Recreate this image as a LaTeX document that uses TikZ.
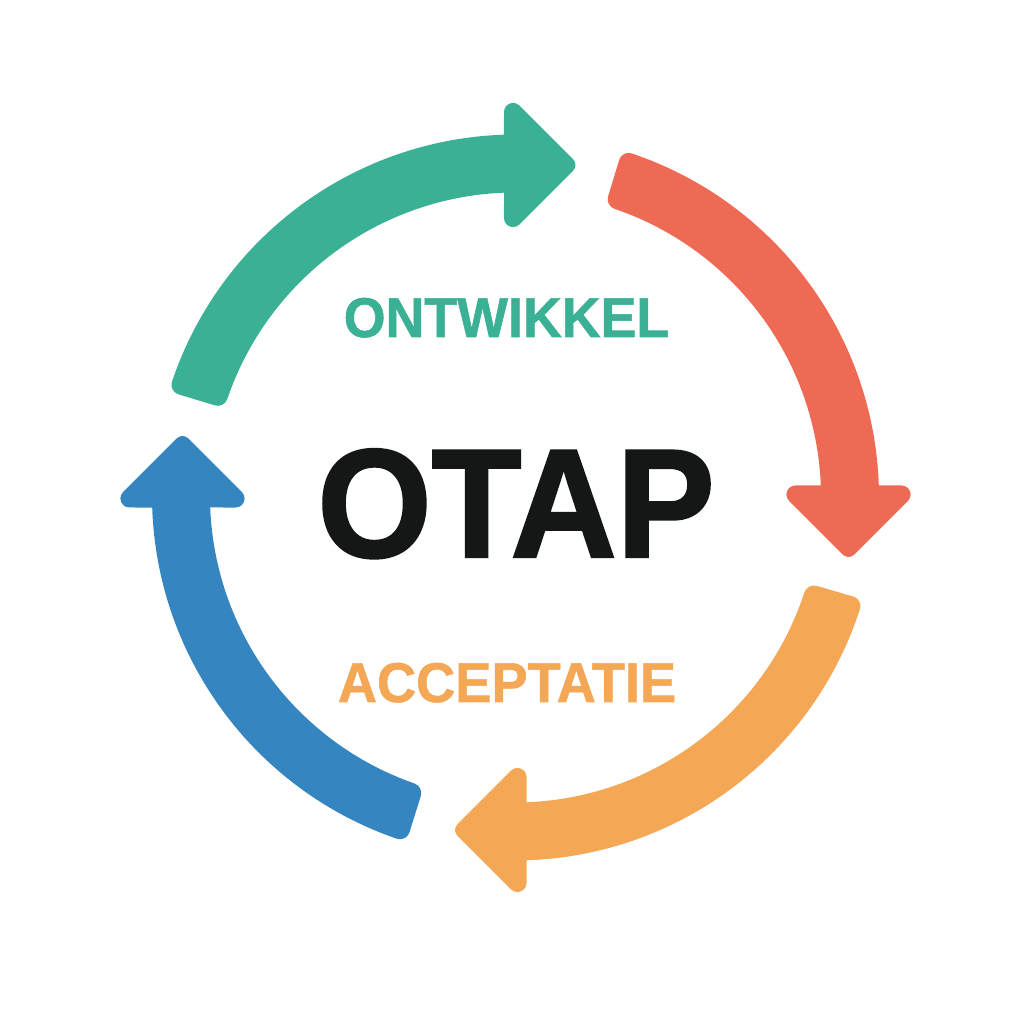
\documentclass[tikz,border=0pt]{standalone}
\usepackage{fontspec}
\newfontfamily\bigfont{Liberation Sans Bold}[FakeBold=1.5,FakeStretch=0.95]
\newfontfamily\smallfontA{Liberation Sans Bold}[FakeBold=1,FakeStretch=0.96]
\newfontfamily\smallfontB{Liberation Sans Bold}[FakeBold=1,FakeStretch=0.968]
\definecolor{cgreen}{HTML}{3AB195}
\definecolor{cred}{HTML}{EE6A55}
\definecolor{corange}{HTML}{F4A855}
\definecolor{cblue}{HTML}{3586C0}
\definecolor{cblack}{HTML}{151717}
\tikzset{
  x=0.75pt,y=0.75pt,
  pics/loopdart/.style={code={
    \fill[pic actions]
      (#1-1.62:363)
      arc[start angle=#1-1.62,end angle=91.9,radius=363]
      -- (-12,385.6)
      arc[start angle=180,end angle=45,radius=9]
      -- (57.14,338.16)
      arc[start angle=45,end angle=-45,radius=8]
      -- (3.35,273.05)
      arc[start angle=-45,end angle=-180,radius=9]
      -- (-12,304.8)
      arc[start angle=92.25,end angle=#1-1.82,radius=305]
      arc[start angle=#1-1.82+180,end angle=#1+90,radius=10]
      -- (#1:352.86)
      arc[start angle=#1+90,end angle=#1-1.62,radius=10]
      -- cycle;
  }},
  biglabel/.style={font=\bigfont\fontsize{116pt}{116pt}\selectfont,text=cblack,inner sep=0pt,anchor=base},
  smalllabel/.style={font=\fontsize{42pt}{42pt}\selectfont,inner sep=0pt,anchor=base}
}
\begin{document}
\begin{tikzpicture}
\useasboundingbox (0,0) rectangle (1024,1024);
\fill[white] (0,0) rectangle (1024,1024);
\coordinate (c) at (516,526.5);
\coordinate (cb) at (515,528.5);
\coordinate (co) at (514.5,526.5);
\pic[fill=cgreen] at (c) {loopdart=163};
\pic[fill=cred,rotate=-90] at (c) {loopdart=163};
\pic[fill=corange,rotate=180] at (co) {loopdart=163.7};
\pic[fill=cblue,rotate=90] at (cb) {loopdart=162.6};
\node[biglabel] (otap) at (516,467) {OTAP};
\node[smalllabel,text=cgreen] (ont) at (506.5,687) {\smallfontA ONTWIKKEL};
\node[smalllabel,text=corange] (acc) at (507,322) {\smallfontB ACCEPTATIE};
\end{tikzpicture}
\end{document}
